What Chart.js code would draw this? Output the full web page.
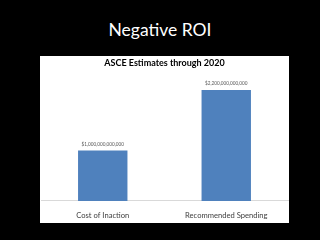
<!DOCTYPE html>
<html>
<head>
<meta charset="utf-8">
<script src="https://cdn.jsdelivr.net/npm/chart.js@4/dist/chart.umd.min.js"></script>
<style>
html,body{margin:0;padding:0;background:#000;width:320px;height:240px;overflow:hidden;}
#head{position:absolute;left:0;top:19px;width:320px;text-align:center;color:#fff;font-family:Lato,"Open Sans",sans-serif;font-size:17.5px;}
#panel{position:absolute;left:40px;top:56px;width:249px;height:167px;background:#fff;}
#c{position:absolute;left:40px;top:56px;display:block;}
</style>
</head>
<body>
<div id="head">Negative ROI</div>
<div id="panel"></div>
<canvas id="c" width="249" height="174"></canvas>
<script>
const categories = ["Cost of Inaction", "Recommended Spending"];
const values = [1000000000000, 2200000000000];
const valueLabels = ["$1,000,000,000,000", "$2,200,000,000,000"];
const chartTitle = "ASCE Estimates through 2020";

const labelPlugin = {
  id: 'valLabels',
  afterDatasetsDraw(chart) {
    const ctx = chart.ctx;
    const meta = chart.getDatasetMeta(0);
    ctx.save();
    ctx.font = '4.7px Lato, "Open Sans", sans-serif';
    ctx.fillStyle = '#595959';
    ctx.textAlign = 'center';
    ctx.textBaseline = 'bottom';
    meta.data.forEach((el, i) => {
      ctx.fillText(valueLabels[i], el.x, el.y - 4);
    });
    ctx.restore();
  }
};

new Chart(document.getElementById('c'), {
  type: 'bar',
  data: {
    labels: categories,
    datasets: [{
      data: values,
      backgroundColor: '#4f81bd',
      borderWidth: 0,
      categoryPercentage: 1,
      barPercentage: 0.4
    }]
  },
  options: {
    responsive: false,
    animation: false,
    devicePixelRatio: 1,
    layout: { padding: { left: 1, right: 1, top: 0, bottom: 0 } },
    plugins: {
      legend: { display: false },
      tooltip: { enabled: false },
      title: {
        display: true,
        text: chartTitle,
        color: '#000',
        font: { family: 'Lato, "Open Sans", sans-serif', size: 9, weight: 'bold' },
        padding: { top: 2, bottom: 6 }
      }
    },
    scales: {
      x: {
        grid: { display: false, drawTicks: false },
        border: { display: true, color: '#d9d9d9', width: 1 },
        ticks: { color: '#404040', font: { family: 'Lato, "Open Sans", sans-serif', size: 7.6 }, padding: 10 }
      },
      y: {
        display: false,
        min: 0,
        max: 2500000000000
      }
    }
  },
  plugins: [labelPlugin]
});
</script>
</body>
</html>
